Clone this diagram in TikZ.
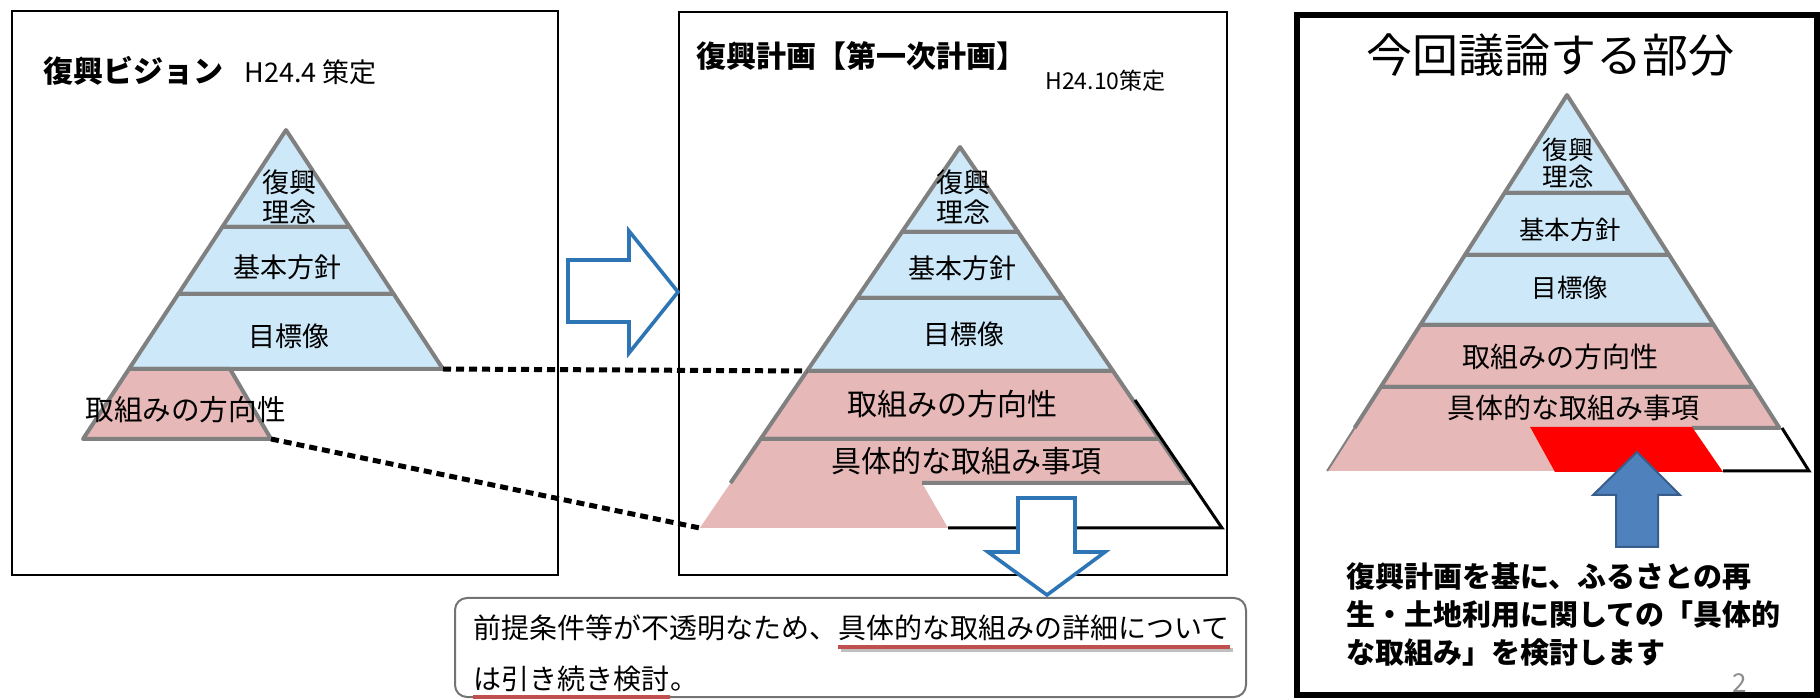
\documentclass[tikz,border=0pt]{standalone}
\usepackage{fontspec}
\setmainfont{Noto Sans CJK JP}
\usepackage{xcolor}
\usetikzlibrary{positioning}

\definecolor{pyrgray}{RGB}{128,128,128}
\definecolor{skyfill}{RGB}{205,232,248}
\definecolor{rosefill}{RGB}{230,184,183}
\definecolor{arrowblue}{RGB}{46,117,182}
\definecolor{upblue}{RGB}{79,129,189}
\definecolor{upedge}{RGB}{56,93,138}
\definecolor{linered}{RGB}{192,80,77}

\begin{document}
\begin{tikzpicture}[
    x=0.5pt, y=-0.5pt,
    panel/.style={draw=black, line width=1.4pt},
    hotpanel/.style={draw=black, line width=2.6pt},
    layer/.style={draw=pyrgray, line width=2pt, line join=round},
    dotlink/.style={draw=black, line width=2.5pt, dash pattern=on 4pt off 2.5pt},
    blockarrow/.style={draw=arrowblue, fill=white, line width=1.8pt, line join=miter},
    uparrow/.style={draw=upedge, fill=upblue, line width=1pt},
    uline/.style={draw=linered, line width=2pt},
    ushadow/.style={draw=black!25, line width=2pt},
    pyrtext/.style={inner sep=0pt, align=center, font=\fontsize{13.5pt}{15pt}\selectfont},
    bigtext/.style={inner sep=0pt, font=\fontsize{15pt}{17pt}\selectfont},
    smalltext/.style={inner sep=0pt, align=center, font=\fontsize{12.75pt}{13.5pt}\selectfont},
    midtext/.style={inner sep=0pt, font=\fontsize{14pt}{16pt}\selectfont},
    titletext/.style={inner sep=0pt, font=\bfseries\fontsize{15pt}{17pt}\selectfont},
    datetext/.style={inner sep=0pt, font=\fontsize{11.5pt}{13pt}\selectfont},
    notetext/.style={inner sep=0pt, font=\fontsize{14pt}{16pt}\selectfont},
    boldnote/.style={inner sep=0pt, align=left, font=\bfseries\fontsize{14.5pt}{19pt}\selectfont}
]
    \useasboundingbox (0,0) rectangle (1820,699);

    % panels
    \draw[panel] (12,11) rectangle (558,575);
    \draw[panel] (679,12) rectangle (1227,575);

    % vision pyramid
    \filldraw[layer, fill=skyfill] (286,130) -- (349.7,227) -- (222.3,227) -- cycle;
    \filldraw[layer, fill=skyfill] (222.3,227) -- (349.7,227) -- (393.7,294) -- (178.3,294) -- cycle;
    \filldraw[layer, fill=skyfill] (178.3,294) -- (393.7,294) -- (443,369) -- (129,369) -- cycle;
    \filldraw[layer, fill=rosefill] (129,369) -- (230,369) -- (271,439) -- (83,439) -- cycle;
    \coordinate (vbase) at (443,369);
    \coordinate (vpink) at (271,439);

    \node[titletext, anchor=west] (v-title) at (43,71) {復興ビジョン};
    \node[datetext, font=\fontsize{13.5pt}{15pt}\selectfont, anchor=west] (v-date) at (244,72) {H24.4 策定};
    \node[pyrtext] (v-rinen) at (289,197) {復興\\理念};
    \node[pyrtext] (v-hoshin) at (287,267) {基本方針};
    \node[pyrtext] (v-mokuhyo) at (289,336) {目標像};
    \node[bigtext, font=\fontsize{14.3pt}{16pt}\selectfont, anchor=west] (v-hoko) at (85,410) {取組みの方向性};

    % plan pyramid
    \filldraw[layer, fill=skyfill] (960,147) -- (1018.1,232) -- (901.9,232) -- cycle;
    \filldraw[layer, fill=skyfill] (901.9,232) -- (1018.1,232) -- (1063.1,298) -- (856.9,298) -- cycle;
    \filldraw[layer, fill=skyfill] (856.9,298) -- (1063.1,298) -- (1113,371) -- (807,371) -- cycle;
    \filldraw[layer, fill=rosefill] (807,371) -- (1113,371) -- (1159.4,439) -- (760.6,439) -- cycle;
    \fill[rosefill] (760.6,439) -- (1159.4,439) -- (1189.5,483) -- (730.5,483) -- cycle;
    \fill[rosefill] (730.5,483) -- (922,483) -- (948,528) -- (699.8,528) -- cycle;
    \draw[layer] (730.5,483) -- (760.6,439) -- (1159.4,439) -- (1189.5,483) -- (922,483);
    \draw[black, line width=1.5pt] (1135,400) -- (1222,528) -- (948,528);
    \coordinate (pmok) at (807,371);
    \coordinate (pbase) at (699.8,528);

    \node[titletext, anchor=west] (p-title) at (696,56) {復興計画【第一次計画】};
    \node[datetext, anchor=west] (p-date) at (1045,81) {H24.10策定};
    \node[pyrtext] (p-rinen) at (963,197) {復興\\理念};
    \node[pyrtext] (p-hoshin) at (962,268) {基本方針};
    \node[pyrtext] (p-mokuhyo) at (964,334) {目標像};
    \node[bigtext] (p-hoko) at (952,404) {取組みの方向性};
    \node[bigtext] (p-jiko) at (966,461) {具体的な取組み事項};

    \draw[dotlink] (vbase) -- (pmok);
    \draw[dotlink] (vpink) -- (pbase);

    % block arrows
    \filldraw[blockarrow] (568,260) -- (629,260) -- (629,231) -- (678,292) -- (629,353) -- (629,322) -- (568,322) -- cycle;
    \filldraw[blockarrow] (1018,498) -- (1075,498) -- (1075,552) -- (1105,552) -- (1047,595) -- (988,552) -- (1018,552) -- cycle;

    % note below
    \draw[draw=black!55, line width=1pt, rounded corners=6pt] (455,598) rectangle (1246,697);
    \node[notetext, anchor=base west] (n-a) at (473,639) {前提条件等が不透明なため、};
    \node[notetext, anchor=base west] (n-b) at (n-a.base east) {具体的な取組みの詳細について};
    \node[notetext, anchor=base west] (n-c) at (473,689) {は引き続き検討};
    \node[notetext, anchor=base west] (n-d) at (n-c.base east) {。};
    \draw[ushadow] ([xshift=1.5pt, yshift=-4pt]n-b.south west) -- ([xshift=1.5pt, yshift=-4pt]n-b.south east);
    \draw[uline] ([yshift=-2.5pt]n-b.south west) -- ([yshift=-2.5pt]n-b.south east);
    \draw[uline] ([yshift=-2.5pt]n-c.south west) -- ([yshift=-2.5pt]n-c.south east);

    % discussed part
    \node[font=\fontsize{23pt}{25pt}\selectfont, inner sep=0pt] (h-title) at (1550,55) {今回議論する部分};

    \fill[rosefill] (1354.5,428) -- (1530,428) -- (1555,471) -- (1327.1,471) -- cycle;
    \filldraw[layer, fill=skyfill] (1567,95) -- (1629.5,193) -- (1504.5,193) -- cycle;
    \filldraw[layer, fill=skyfill] (1504.5,193) -- (1629.5,193) -- (1669.1,255) -- (1464.9,255) -- cycle;
    \filldraw[layer, fill=skyfill] (1464.9,255) -- (1669.1,255) -- (1713.7,325) -- (1420.3,325) -- cycle;
    \filldraw[layer, fill=rosefill] (1420.3,325) -- (1713.7,325) -- (1753.3,387) -- (1380.7,387) -- cycle;
    \fill[rosefill] (1380.7,387) -- (1753.3,387) -- (1779.5,428) -- (1354.5,428) -- cycle;
    \draw[layer] (1354.5,428) -- (1380.7,387) -- (1753.3,387) -- (1779.5,428) -- (1692,428);
    \draw[pyrgray, line width=1pt] (1354.5,428) -- (1327.1,471);
    \fill[red] (1530,427) -- (1692,427) -- (1723,472) -- (1555,472) -- cycle;
    \draw[black, line width=1.5pt] (1782,428) -- (1809,471) -- (1723,471);

    \node[smalltext] (h-rinen) at (1568,163) {復興\\理念};
    \node[smalltext] (h-hoshin) at (1570,230) {基本方針};
    \node[smalltext] (h-mokuhyo) at (1570,288) {目標像};
    \node[midtext] (h-hoko) at (1560,357) {取組みの方向性};
    \node[midtext] (h-jiko) at (1573,408) {具体的な取組み事項};

    \filldraw[uparrow] (1616,547) -- (1658,547) -- (1658,495) -- (1680,495) -- (1637,452) -- (1593,495) -- (1616,495) -- cycle;

    \node[boldnote, anchor=north west] (h-note) at (1346,562) {復興計画を基に、ふるさとの再\\生・土地利用に関しての「具体的\\な取組み」を検討します};
    \node[inner sep=0pt, text=black!45, font=\fontsize{13pt}{13pt}\selectfont] (h-page) at (1740,683) {2};

    \draw[hotpanel] (1297,15) rectangle (1817,695);
\end{tikzpicture}
\end{document}
